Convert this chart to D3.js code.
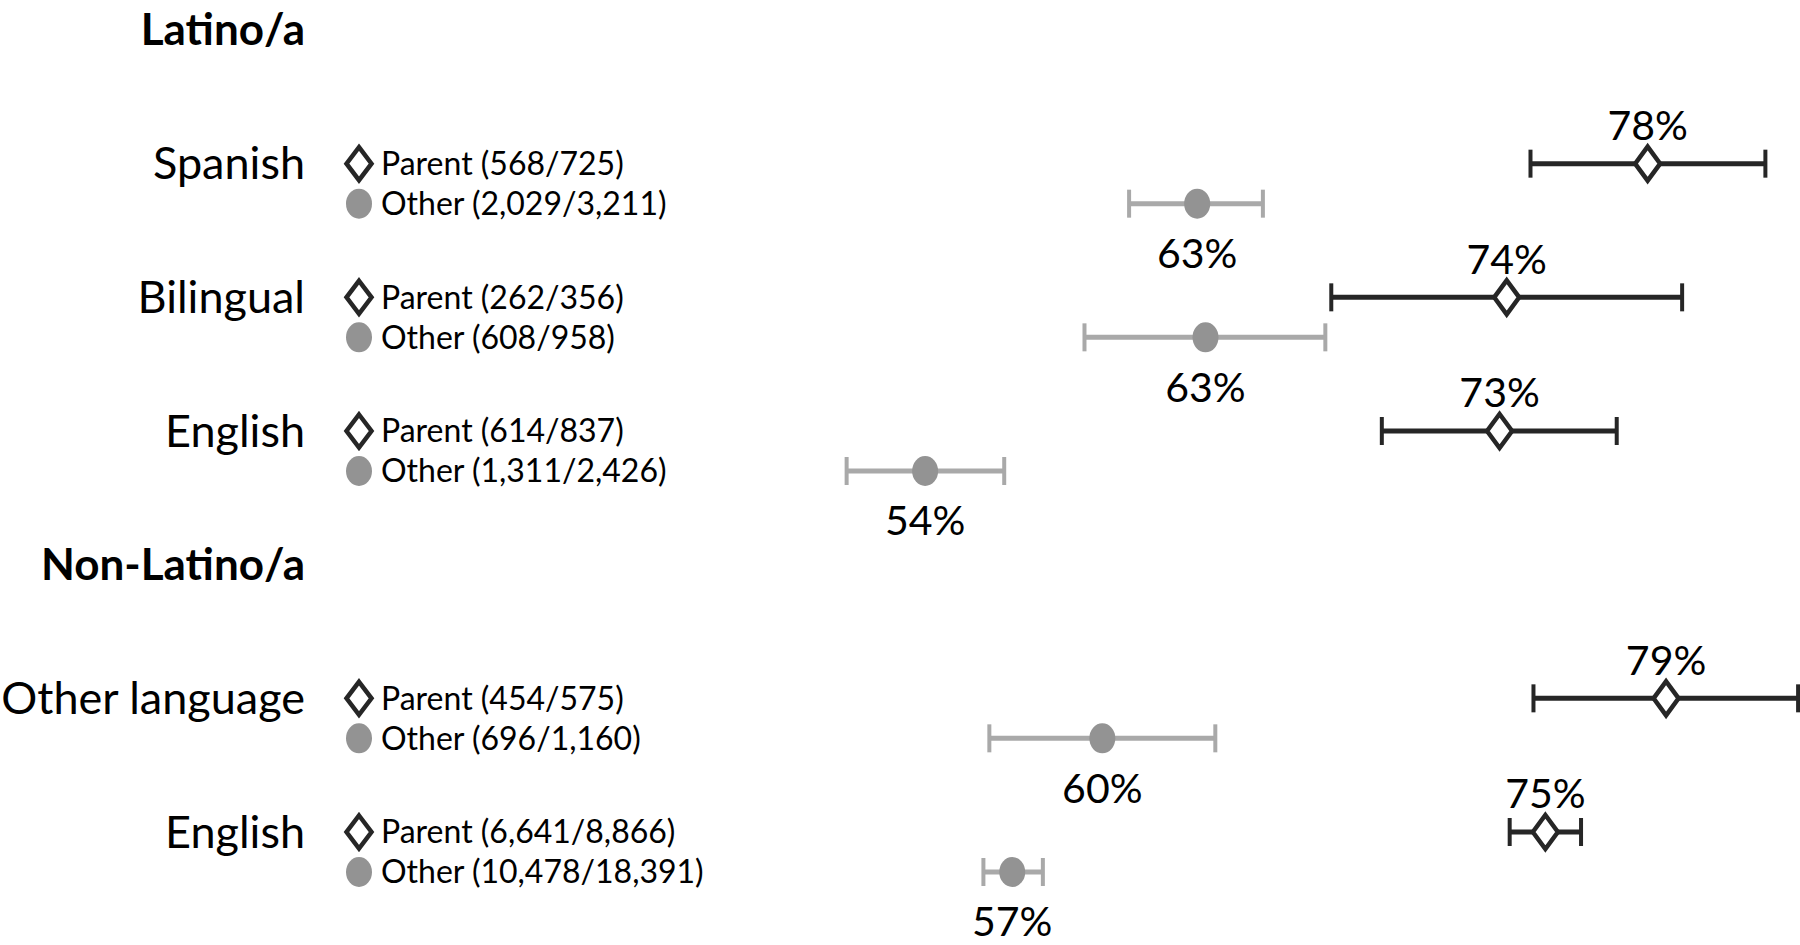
<!DOCTYPE html>
<html>
<head>
<meta charset="utf-8">
<script src="https://cdn.jsdelivr.net/npm/d3@7"></script>
<style>
  body { margin: 0; background: #fff; }
  svg { display: block; font-family: Lato, "Open Sans", sans-serif; }
</style>
</head>
<body>
<div id="chart"></div>
<script>
// data
var groups = ["Latino/a", "Latino/a", "Latino/a", "Non-Latino/a", "Non-Latino/a"];
var categories = ["Spanish", "Bilingual", "English", "Other language", "English"];
var parentYes = [568, 262, 614, 454, 6641];
var parentN = [725, 356, 837, 575, 8866];
var otherYes = [2029, 608, 1311, 696, 10478];
var otherN = [3211, 958, 2426, 1160, 18391];
var parentPct = [78.34, 73.60, 73.36, 78.96, 74.90];
var otherPct = [63.19, 63.47, 54.04, 60.00, 56.97];
var parentLow = [74.4, 67.7, 69.4, 74.5, 73.7];
var parentHigh = [82.3, 79.5, 77.3, 83.4, 76.1];
var otherLow = [60.9, 59.4, 51.4, 56.2, 56.0];
var otherHigh = [65.4, 67.5, 56.7, 63.8, 58.0];

var width = 1800, height = 945;
var darkCol = "#262626", grayCol = "#939393", grayBar = "#a9a9a9";

// build rows: a header row before each new group, then one row per category
var rows = [];
categories.forEach(function (c, i) {
    if (i === 0 || groups[i] !== groups[i - 1]) rows.push({header: true, label: groups[i]});
    rows.push({header: false, label: c, i: i});
});

var svg = d3.select("#chart").append("svg")
    .attr("width", width)
    .attr("height", height);
svg.append("rect").attr("width", width).attr("height", height).attr("fill", "#fff");

var x = d3.scaleLinear().domain([50, 80]).range([805, 1697]);
var y = d3.scalePoint().domain(d3.range(rows.length)).range([30, 832]);
var gap = 40;
var fmt = d3.format(",");

function diamond(g, cx, cy, w, h) {
    g.append("path")
        .attr("d", "M" + cx + "," + (cy - h / 2) + "L" + (cx + w / 2) + "," + cy +
                   "L" + cx + "," + (cy + h / 2) + "L" + (cx - w / 2) + "," + cy + "Z")
        .attr("fill", "#fff")
        .attr("stroke", darkCol)
        .attr("stroke-width", 4.5);
}

function errbar(g, lo, hi, cy, col, sw) {
    g.append("line")
        .attr("x1", x(lo)).attr("x2", x(hi))
        .attr("y1", cy).attr("y2", cy)
        .attr("stroke", col).attr("stroke-width", sw);
    [lo, hi].forEach(function (v) {
        g.append("line")
            .attr("x1", x(v)).attr("x2", x(v))
            .attr("y1", cy - 14).attr("y2", cy + 14)
            .attr("stroke", col).attr("stroke-width", 4);
    });
}

rows.forEach(function (r, k) {
    var cy = y(k);
    var g = svg.append("g");
    if (r.header) {
        g.append("text")
            .attr("x", 305).attr("y", cy).attr("dy", "0.35em")
            .attr("text-anchor", "end")
            .style("font-size", "44px").style("font-weight", "bold")
            .text(r.label);
        return;
    }
    var i = r.i;
    // category label
    g.append("text")
        .attr("x", 305).attr("y", cy).attr("dy", "0.35em")
        .attr("text-anchor", "end")
        .style("font-size", "45px")
        .text(r.label);

    // legend
    diamond(g, 359, cy, 25, 33);
    g.append("text")
        .attr("x", 381).attr("y", cy).attr("dy", "0.35em")
        .style("font-size", "32px")
        .text("Parent (" + fmt(parentYes[i]) + "/" + fmt(parentN[i]) + ")");
    g.append("ellipse")
        .attr("cx", 359).attr("cy", cy + gap).attr("rx", 13).attr("ry", 15)
        .attr("fill", grayCol);
    g.append("text")
        .attr("x", 381).attr("y", cy + gap).attr("dy", "0.35em")
        .style("font-size", "32px")
        .text("Other (" + fmt(otherYes[i]) + "/" + fmt(otherN[i]) + ")");

    // parent estimate
    errbar(g, parentLow[i], parentHigh[i], cy, darkCol, 5);
    diamond(g, x(parentPct[i]), cy, 25, 34);
    g.append("text")
        .attr("x", x(parentPct[i])).attr("y", cy - 38).attr("dy", "0.35em")
        .attr("text-anchor", "middle")
        .style("font-size", "41px")
        .text(Math.round(parentPct[i]) + "%");

    // other estimate
    errbar(g, otherLow[i], otherHigh[i], cy + gap, grayBar, 5);
    g.append("ellipse")
        .attr("cx", x(otherPct[i])).attr("cy", cy + gap).attr("rx", 13).attr("ry", 15)
        .attr("fill", grayCol);
    g.append("text")
        .attr("x", x(otherPct[i])).attr("y", cy + gap + 50).attr("dy", "0.35em")
        .attr("text-anchor", "middle")
        .style("font-size", "41px")
        .text(Math.round(otherPct[i]) + "%");
});
</script>
</body>
</html>
